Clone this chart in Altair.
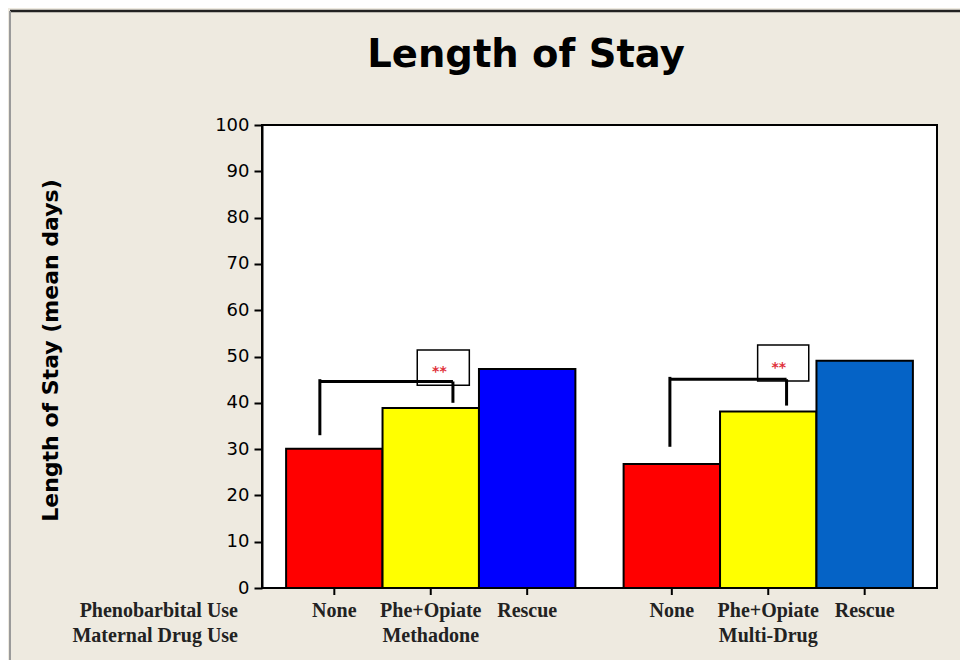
import altair as alt
import pandas as pd

# ---------------- data ----------------
title_text = "Length of Stay"
y_title = "Length of Stay (mean days)"
row_headers = ["Phenobarbital Use", "Maternal Drug Use"]
groups = ["Methadone", "Multi-Drug"]
pheno = ["None", "Phe+Opiate", "Rescue"]
methadone_los = [30.1, 38.9, 47.3]
multidrug_los = [26.8, 38.1, 49.1]
bar_colors = [["#FF0000", "#FFFF00", "#0000FF"],
              ["#FF0000", "#FFFF00", "#0563C6"]]
y_ticks = list(range(0, 101, 10))

# significance brackets (x in bar-slot units, y in mean days)
bracket_x_left = [0.60, 4.23]
bracket_x_right = [1.98, 5.44]
bracket_y_top = [44.6, 45.1]
bracket_y_left_end = [33.0, 30.5]
bracket_y_right_end = [40.0, 39.4]
box_x0 = [1.61, 5.14]
box_x1 = [2.15, 5.67]
box_y0 = [43.8, 44.7]
box_y1 = [51.4, 52.5]
star_x = [1.84, 5.36]
star_y = [46.6, 47.6]
star_text = ["**", "**"]

# ---------------- layout ----------------
W, H = 675, 463
OUTER, GAP = 0.25, 0.5
X_MAX = 2 * OUTER + GAP + 2 * len(pheno)
ROW_BASELINES = [H + 29, H + 54]

values = [methadone_los, multidrug_los]
rows = []
for g, grp in enumerate(groups):
    for i, p in enumerate(pheno):
        x0 = OUTER + g * (len(pheno) + GAP) + i
        rows.append({"group": grp, "pheno": p, "value": values[g][i], "base": 0,
                     "x0": x0, "x1": x0 + 1, "xc": x0 + 0.5,
                     "color": bar_colors[g][i],
                     "is_mid": i == len(pheno) // 2})
bars_df = pd.DataFrame(rows)
centers = bars_df["xc"].tolist()

xscale = alt.Scale(domain=[0, X_MAX], nice=False, zero=False)
yscale = alt.Scale(domain=[0, 100], nice=False)

base = alt.Chart(bars_df)

bars = base.mark_bar(stroke="black", strokeWidth=2).encode(
    x=alt.X("x0:Q", scale=xscale,
            axis=alt.Axis(values=centers, labels=False, title=None, grid=False,
                          tickSize=7, tickWidth=2, domainWidth=2,
                          domainColor="black", tickColor="black")),
    x2="x1:Q",
    y=alt.Y("value:Q", scale=yscale,
            axis=alt.Axis(values=y_ticks, grid=False, tickSize=8, tickWidth=2,
                          domainWidth=2, domainColor="black", tickColor="black",
                          labelFont="DejaVu Sans", labelFontSize=18,
                          labelColor="black", labelPadding=5,
                          title=y_title, titleFont="DejaVu Sans",
                          titleFontSize=22, titleFontWeight="bold",
                          titleColor="black", titleAngle=270,
                          titleAlign="center", titleBaseline="middle",
                          titleX=-212, titleY=225)),
    y2="base:Q",
    color=alt.Color("color:N", scale=None),
)

# tick marks under each bar
x_ticks = base.mark_rule(color="black", strokeWidth=2).encode(
    x=alt.X("xc:Q", scale=xscale, axis=None),
    y=alt.value(H),
    y2=alt.value(H + 7),
)

label_style = dict(font="Liberation Serif", fontSize=20, fontWeight="bold",
                   color="#222222", baseline="alphabetic")

sub_labels = base.mark_text(**label_style).encode(
    x=alt.X("xc:Q", scale=xscale, axis=None),
    y=alt.value(ROW_BASELINES[0]),
    text="pheno:N",
)

group_labels = base.transform_filter("datum.is_mid").mark_text(**label_style).encode(
    x=alt.X("xc:Q", scale=xscale, axis=None),
    y=alt.value(ROW_BASELINES[1]),
    text="group:N",
)

hdr_df = pd.DataFrame({"t": row_headers, "row": list(range(len(row_headers)))})
headers = alt.Chart(hdr_df).mark_text(align="right", **label_style).encode(
    x=alt.value(-24),
    y=alt.Y("row:O", axis=None,
            scale=alt.Scale(domain=[0, 1], range=ROW_BASELINES, padding=0)),
    text="t:N",
)

seg_rows = []
for k in range(len(bracket_x_left)):
    seg_rows.append({"x": bracket_x_left[k], "x2": bracket_x_left[k],
                     "y": bracket_y_left_end[k], "y2": bracket_y_top[k] + 0.5})
    seg_rows.append({"x": bracket_x_left[k], "x2": bracket_x_right[k],
                     "y": bracket_y_top[k], "y2": bracket_y_top[k]})
    seg_rows.append({"x": bracket_x_right[k], "x2": bracket_x_right[k],
                     "y": bracket_y_right_end[k], "y2": bracket_y_top[k]})
seg_df = pd.DataFrame(seg_rows)

brackets = alt.Chart(seg_df).mark_rule(color="black", strokeWidth=3).encode(
    x=alt.X("x:Q", scale=xscale, axis=None), x2="x2:Q",
    y=alt.Y("y:Q", scale=yscale, axis=None), y2="y2:Q",
)

box_df = pd.DataFrame({"x0": box_x0, "x1": box_x1, "y0": box_y0, "y1": box_y1})
boxes = alt.Chart(box_df).mark_rect(fillOpacity=0, stroke="black", strokeWidth=1.5).encode(
    x=alt.X("x0:Q", scale=xscale, axis=None), x2="x1:Q",
    y=alt.Y("y0:Q", scale=yscale, axis=None), y2="y1:Q",
)

star_df = pd.DataFrame({"x": star_x, "y": star_y, "t": star_text})
stars = alt.Chart(star_df).mark_text(color="#E0303A", fontSize=14, fontWeight="bold",
                                     font="DejaVu Sans", baseline="middle").encode(
    x=alt.X("x:Q", scale=xscale, axis=None),
    y=alt.Y("y:Q", scale=yscale, axis=None),
    text="t:N",
)

title_df = pd.DataFrame({"t": [title_text]})
title = alt.Chart(title_df).mark_text(font="DejaVu Sans", fontSize=38.5, fontWeight="bold",
                                      color="black", baseline="alphabetic").encode(
    x=alt.value(264), y=alt.value(-58), text="t:N",
)

frame_df = pd.DataFrame({"a": [0]})
top_line = alt.Chart(frame_df).mark_rule(color="#222222", strokeWidth=2.5).encode(
    x=alt.value(-252), x2=alt.value(720), y=alt.value(-114))
left_line = alt.Chart(frame_df).mark_rule(color="#9A9A9A", strokeWidth=2).encode(
    x=alt.value(-252), y=alt.value(-114), y2=alt.value(560))

chart = alt.layer(
    bars, x_ticks, brackets, boxes, stars, sub_labels, group_labels, headers, title,
    top_line, left_line,
).resolve_scale(y="shared").properties(
    width=W, height=H,
    autosize=alt.AutoSizeParams(type="none"),
    padding={"left": 254, "top": 117, "right": 23, "bottom": 72},
    background="#EEEAE0",
).configure_view(stroke="black", strokeWidth=2, fill="white")

chart.save("out.html", embed_options={"renderer": "svg", "actions": False})
